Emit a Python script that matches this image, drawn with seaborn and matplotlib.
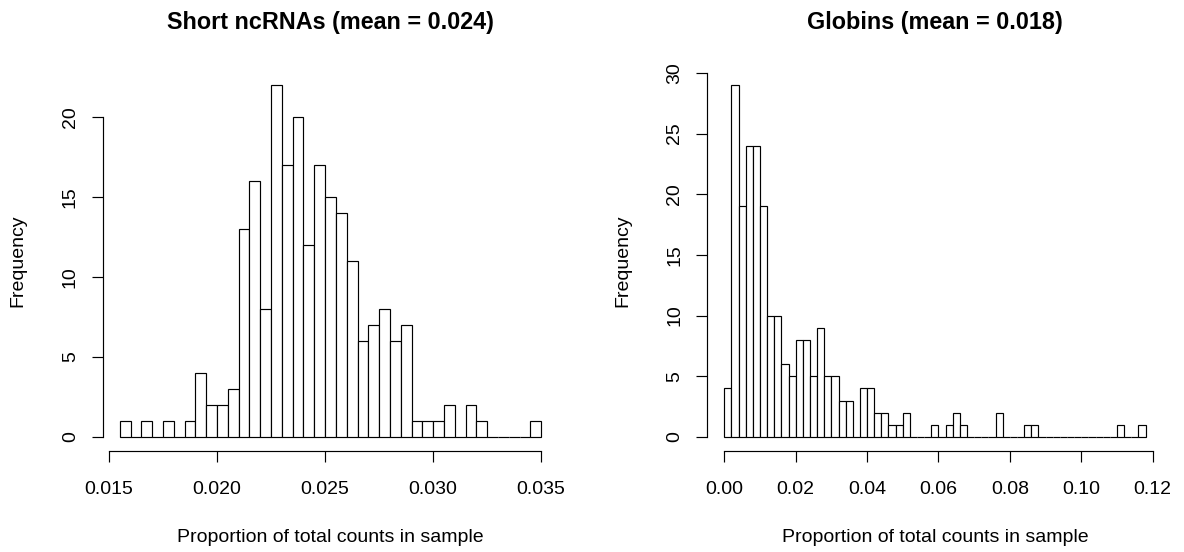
import numpy as np
import pandas as pd
import matplotlib
matplotlib.use("Agg")
import matplotlib.pyplot as plt
import seaborn as sns

# ---- data ----
short_start = 0.0155
short_width = 0.0005
short_counts = [1, 0, 1, 0, 1, 0, 1, 4, 2, 2, 3, 13, 16, 8, 22, 17, 20, 12, 17,
                15, 14, 11, 6, 7, 8, 6, 7, 1, 1, 1, 2, 0, 2, 1, 0, 0, 0, 0, 1]
short_title = "Short ncRNAs (mean = 0.024)"
short_xticks = [0.015, 0.020, 0.025, 0.030, 0.035]
short_xticklabels = ["0.015", "0.020", "0.025", "0.030", "0.035"]
short_yticks = [0, 5, 10, 15, 20]

glob_start = 0.0
glob_width = 0.002
glob_counts = [4, 29, 19, 24, 24, 19, 10, 10, 6, 5, 8, 8, 5, 9, 5, 5, 3, 3, 0,
               4, 4, 2, 2, 1, 1, 2, 0, 0, 0, 1, 0, 1, 2, 1, 0, 0, 0, 0, 2, 0,
               0, 0, 1, 1, 0, 0, 0, 0, 0, 0, 0, 0, 0, 0, 0, 1, 0, 0, 1]
glob_title = "Globins (mean = 0.018)"
glob_xticks = [0.00, 0.02, 0.04, 0.06, 0.08, 0.10, 0.12]
glob_xticklabels = ["0.00", "0.02", "0.04", "0.06", "0.08", "0.10", "0.12"]
glob_yticks = [0, 5, 10, 15, 20, 25, 30]

xlabel = "Proportion of total counts in sample"
ylabel = "Frequency"

sns.set_style("white")
plt.rcParams["font.family"] = ["Liberation Sans", "DejaVu Sans"]
plt.rcParams["text.color"] = "black"
plt.rcParams["axes.labelcolor"] = "black"
plt.rcParams["xtick.color"] = "black"
plt.rcParams["ytick.color"] = "black"

W, H = 1184, 552
fig = plt.figure(figsize=(W / 100, H / 100), dpi=100)

BASE = 14
TICKLEN = 7.9


def panel(left_px, counts, start, width, title, xticks, xticklabels, yticks):
    ax = fig.add_axes([left_px / W, 1 - 451 / H, 455 / W, 380 / H])
    n = len(counts)
    edges = start + width * np.arange(n + 1)
    centers = (edges[:-1] + edges[1:]) / 2
    df = pd.DataFrame({"x": centers, "w": counts})
    sns.histplot(data=df, x="x", weights="w", bins=[float(e) for e in edges], ax=ax,
                 color="white", edgecolor="black", linewidth=0.85, alpha=1)
    lo, hi = edges[0], edges[-1]
    pad = 0.04 * (hi - lo)
    ax.set_xlim(lo - pad, hi + pad)
    ymax = max(counts)
    ax.set_ylim(-0.04 * ymax, ymax * 1.04)
    for s in ["top", "right"]:
        ax.spines[s].set_visible(False)
    for s in ["left", "bottom"]:
        ax.spines[s].set_linewidth(0.85)
        ax.spines[s].set_color("black")
    ax.spines["bottom"].set_bounds(xticks[0], xticks[-1])
    ax.spines["left"].set_bounds(yticks[0], yticks[-1])
    ax.set_xticks(xticks)
    ax.set_xticklabels(xticklabels)
    ax.set_yticks(yticks)
    ax.set_yticklabels([str(v) for v in yticks], rotation=90, va="center")
    ax.tick_params(axis="both", direction="out", length=TICKLEN, width=0.85,
                   colors="black", labelsize=BASE)
    ax.tick_params(axis="x", pad=14, bottom=True)
    ax.tick_params(axis="y", pad=9.4, left=True)
    ax.set_xlabel(xlabel, fontsize=BASE, color="black")
    ax.set_ylabel(ylabel, fontsize=BASE, color="black")
    ax.xaxis.set_label_coords(0.5, -(537 - 451) / 380)
    ax.xaxis.label.set_va("center")
    ax.yaxis.set_label_coords(-(103 - 18) / 455, 0.5)
    ax.yaxis.label.set_va("center")
    ax.set_title(title, fontsize=BASE * 1.2, fontweight="bold", color="black",
                 y=(451 - 23) / 380, va="center", pad=0)
    ax.grid(False)
    return ax


panel(103, short_counts, short_start, short_width, short_title,
      short_xticks, short_xticklabels, short_yticks)
panel(707.4, glob_counts, glob_start, glob_width, glob_title,
      glob_xticks, glob_xticklabels, glob_yticks)

fig.savefig("out.png", dpi=100, facecolor="white")
